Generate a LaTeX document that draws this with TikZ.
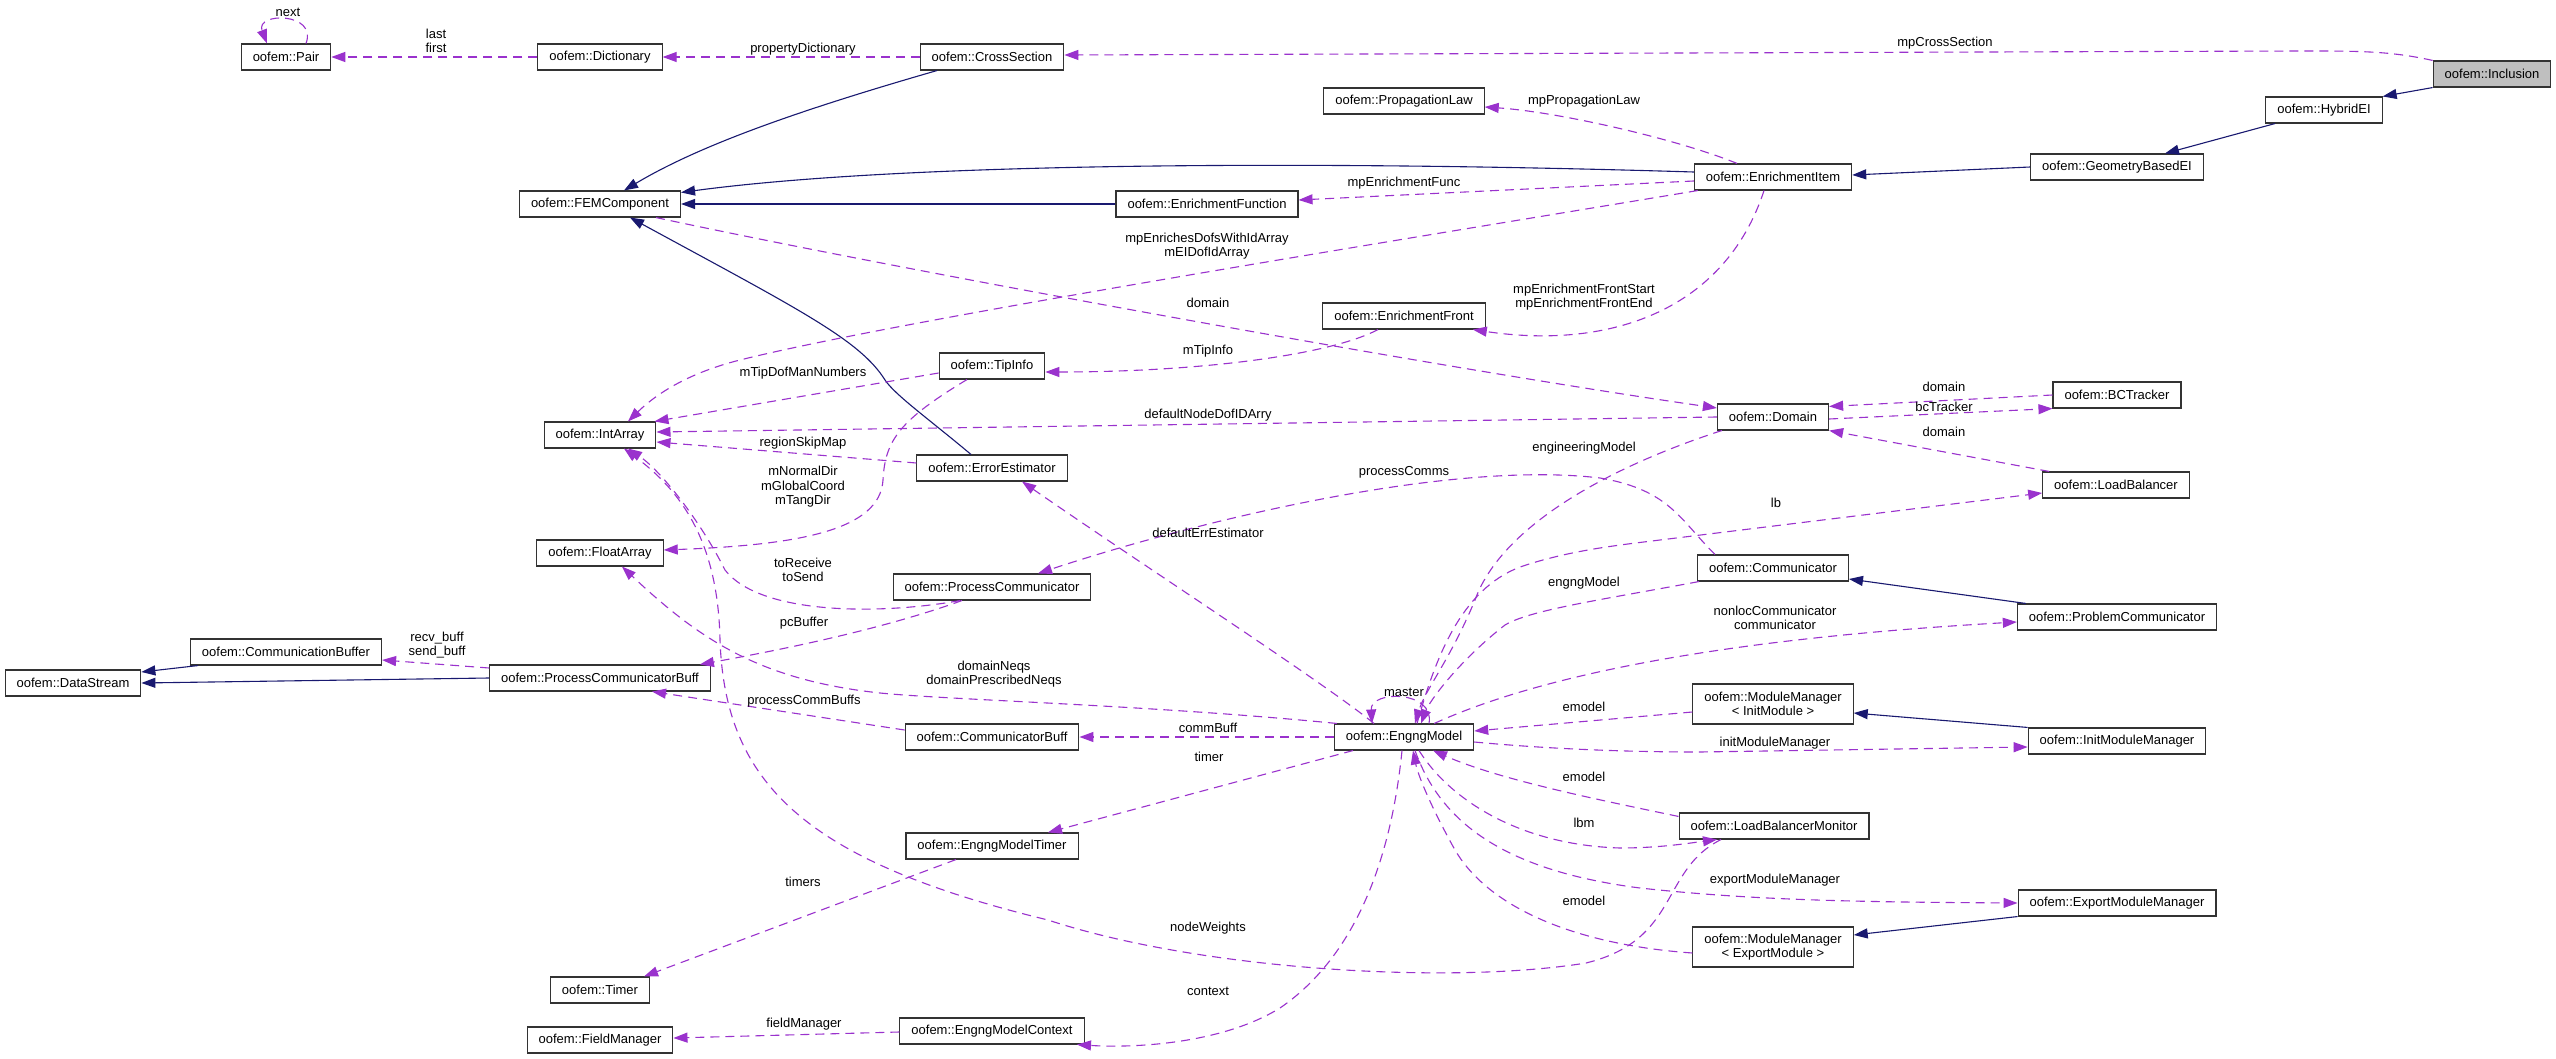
\documentclass[tikz,border=0pt]{standalone}
\usepackage{fontspec}
\setmainfont{Liberation Sans}
\usetikzlibrary{arrows.meta,calc}
\definecolor{purp}{HTML}{9A32CD}
\definecolor{navy}{HTML}{191970}
\definecolor{selgray}{HTML}{BFBFBF}
\newcommand\dgfont{\fontsize{13}{14.5}\selectfont}
\tikzset{
  cls/.style={draw=black!80, line width=1.1pt, fill=white, minimum height=26pt, inner xsep=11.5pt, inner ysep=2pt, font=\dgfont, text=black},
  clstwo/.style={cls, minimum height=40pt, align=center},
  rel/.style={draw=purp, line width=1.1pt, dash pattern=on 9pt off 6pt, -{Triangle[length=14pt,width=10pt]}},
  inh/.style={draw=navy, line width=1.1pt, -{Triangle[length=14pt,width=10pt]}},
  lbl/.style={font=\dgfont, align=center, inner sep=0pt, text=black}
}
\begin{document}
\begin{tikzpicture}[x=1pt,y=-1pt]
\useasboundingbox[fill=white] (0,0) rectangle (2556,1059);
% nodes
\node[cls] (pair) at (286,57) {oofem::Pair};
\node[cls] (dict) at (600,57) {oofem::Dictionary};
\node[cls] (cross) at (992,57) {oofem::CrossSection};
\node[cls,fill=selgray] (incl) at (2492,74) {oofem::Inclusion};
\node[cls] (hybrid) at (2324,110) {oofem::HybridEI};
\node[cls] (geom) at (2117,167) {oofem::GeometryBasedEI};
\node[cls] (prop) at (1404,101) {oofem::PropagationLaw};
\node[cls] (eitem) at (1773,177) {oofem::EnrichmentItem};
\node[cls] (fem) at (600,204) {oofem::FEMComponent};
\node[cls] (efunc) at (1207,204) {oofem::EnrichmentFunction};
\node[cls] (efront) at (1404,316) {oofem::EnrichmentFront};
\node[cls] (tip) at (992,366) {oofem::TipInfo};
\node[cls] (intarr) at (600,435) {oofem::IntArray};
\node[cls] (domain) at (1773,417) {oofem::Domain};
\node[cls] (bct) at (2117,395) {oofem::BCTracker};
\node[cls] (lbal) at (2116,485) {oofem::LoadBalancer};
\node[cls] (errest) at (992,468) {oofem::ErrorEstimator};
\node[cls] (floatarr) at (600,553) {oofem::FloatArray};
\node[cls] (pcomm) at (992,587) {oofem::ProcessCommunicator};
\node[cls] (comm) at (1773,568) {oofem::Communicator};
\node[cls] (probcomm) at (2117,617) {oofem::ProblemCommunicator};
\node[cls] (cbuffer) at (286,652) {oofem::CommunicationBuffer};
\node[cls] (dstream) at (73,683) {oofem::DataStream};
\node[cls] (pcbuff) at (600,678) {oofem::ProcessCommunicatorBuff};
\node[cls] (commbuff) at (992,737) {oofem::CommunicatorBuff};
\node[cls] (engng) at (1404,737) {oofem::EngngModel};
\node[clstwo] (mminit) at (1773,704) {oofem::ModuleManager\\< InitModule >};
\node[cls] (initmm) at (2117,741) {oofem::InitModuleManager};
\node[cls] (emtimer) at (992,846) {oofem::EngngModelTimer};
\node[cls] (lbm) at (1774,826) {oofem::LoadBalancerMonitor};
\node[cls] (expmm) at (2117,903) {oofem::ExportModuleManager};
\node[clstwo] (mmexp) at (1773,947) {oofem::ModuleManager\\< ExportModule >};
\node[cls] (timer) at (600,990) {oofem::Timer};
\node[cls] (fieldm) at (600,1040) {oofem::FieldManager};
\node[cls] (emctx) at (992,1031) {oofem::EngngModelContext};

% inheritance
\draw[inh] (incl.south west) -- (hybrid.north east);
\draw[inh] ([xshift=-49]hybrid.south) -- ([xshift=48]geom.north);
\draw[inh] (geom.west) -- ([yshift=2]eitem.east);
\draw[inh] ([yshift=5]eitem.west) .. controls (1300,160) and (900,163) .. ([yshift=-2]fem.north east);
\draw[inh] (efunc.west) -- (fem.east);
\draw[inh] ([xshift=-55]cross.south) .. controls (800,110) and (700,145) .. ([xshift=24]fem.north);
\draw[inh] ([xshift=-21]errest.north) .. controls (930,420) and (895,395) .. (885,380) .. controls (860,340) and (800,310) .. ([xshift=30]fem.south);
\draw[inh] ([xshift=9]probcomm.north west) -- ([yshift=-11]comm.east);
\draw[inh] ([xshift=-88]cbuffer.south) -- ([yshift=11]dstream.east);
\draw[inh] (pcbuff.west) -- (dstream.east);
\draw[inh] (initmm.north west) -- ([yshift=-9]mminit.east);
\draw[inh] (expmm.south west) -- ([yshift=12]mmexp.east);

% relations
\draw[rel] ([xshift=20]pair.north) .. controls (318,12) and (255,12) .. ([xshift=-19]pair.north);
\draw[rel] (dict.west) -- (pair.east);
\draw[rel] (cross.west) -- (dict.east);
\draw[rel] (incl.north west) .. controls (2390,51) and (2360,51) .. (2300,51) -- ([yshift=2]cross.east);
\draw[rel] ([xshift=-36]eitem.north) .. controls (1680,140) and (1560,112) .. ([yshift=-6]prop.east);
\draw[rel] ([yshift=-4]eitem.west) -- ([yshift=4]efunc.east);
\draw[rel] ([xshift=4]eitem.south west) .. controls (1400,240) and (900,320) .. (740,360) .. controls (680,375) and (650,400) .. ([xshift=28]intarr.north);
\draw[rel] ([xshift=56]fem.south) .. controls (900,270) and (1450,370) .. ([yshift=9]domain.west);
\draw[rel] ([xshift=-9]eitem.south) .. controls (1725,310) and (1610,350) .. ([xshift=-13]efront.south east);
\draw[rel] ([xshift=-26]efront.south) .. controls (1330,355) and (1200,372) .. ([yshift=-6]tip.east);
\draw[rel] ([yshift=-7]tip.west) -- ([xshift=-2]intarr.north east);
\draw[rel] ([xshift=-25]tip.south) .. controls (900,420) and (885,440) .. (883,480) .. controls (880,530) and (800,545) .. ([yshift=3]floatarr.east);
\draw[rel] (domain.west) -- ([yshift=3]intarr.east);
\draw[rel] ([yshift=5]errest.west) -- ([yshift=-7]intarr.east);
\draw[rel] (bct.west) -- ([yshift=-3]domain.north east);
\draw[rel] ([yshift=-2]domain.east) -- (bct.south west);
\draw[rel] ([xshift=7]lbal.north west) -- (domain.south east);
\draw[rel] ([xshift=5]domain.south west) .. controls (1600,470) and (1500,530) .. (1475,600) .. controls (1450,660) and (1425,690) .. ([xshift=11]engng.north);
\draw[rel] ([xshift=13]engng.north) .. controls (1435,660) and (1460,590) .. (1520,567) .. controls (1570,550) and (1620,545) .. (1660,540) -- ([yshift=-8]lbal.west);
\draw[rel] ([xshift=-58]comm.north) .. controls (1680,520) and (1670,490) .. (1600,478) .. controls (1450,460) and (1200,520) .. ([xshift=46]pcomm.north);
\draw[rel] ([xshift=-30]engng.north) .. controls (1320,680) and (1150,570) .. ([xshift=30]errest.south);
\draw[rel] ([xshift=2]comm.south west) .. controls (1600,600) and (1530,610) .. (1505,625) .. controls (1460,660) and (1430,700) .. ([xshift=17]engng.north);
\draw[rel] ([xshift=-40]engng.north east) .. controls (1530,680) and (1700,640) .. ([yshift=-5]probcomm.west);
\draw[rel] ([xshift=-32]pcomm.south) .. controls (880,615) and (760,615) .. (725,570) .. controls (700,520) and (660,470) .. ([xshift=28]intarr.south);
\draw[rel] ([xshift=-30]pcomm.south) .. controls (880,630) and (780,650) .. ([xshift=-11]pcbuff.north east);
\draw[rel] ([yshift=10]pcbuff.west) -- ([yshift=-8]cbuffer.east);
\draw[rel] ([xshift=3]engng.north west) .. controls (1150,705) and (950,700) .. (880,693) .. controls (760,680) and (700,640) .. ([xshift=22]floatarr.south);
\draw[rel] ([xshift=-53]lbm.south) .. controls (1660,870) and (1680,940) .. (1586,963) .. controls (1450,985) and (1200,970) .. (1048,920) .. controls (800,860) and (725,780) .. (720,640) .. controls (718,540) and (680,490) .. ([xshift=24]intarr.south);
\draw[rel] ([yshift=7]commbuff.west) -- ([xshift=52]pcbuff.south);
\draw[rel] (engng.west) -- (commbuff.east);
\draw[rel] ([xshift=-51]engng.south) -- ([xshift=56]emtimer.north);
\draw[rel] ([yshift=-8]mminit.west) -- ([yshift=6]engng.east);
\draw[rel] ([yshift=-5]engng.east) .. controls (1560,750) and (1640,752) .. (1700,752) -- ([yshift=-6]initmm.west);
\draw[rel] ([yshift=-4]lbm.north west) .. controls (1600,800) and (1500,780) .. ([xshift=29]engng.south);
\draw[rel] ([xshift=15]engng.south) .. controls (1450,800) and (1520,845) .. (1620,848) .. controls (1660,848) and (1690,843) .. ([xshift=-57]lbm.south);
\draw[rel] ([xshift=11]engng.south) .. controls (1440,820) and (1500,870) .. (1640,888) .. controls (1750,900) and (1850,902) .. (expmm.west);
\draw[rel] ([yshift=-6]mmexp.west) .. controls (1580,945) and (1490,910) .. (1455,850) .. controls (1430,805) and (1418,775) .. ([xshift=9]engng.south);
\draw[rel] ([xshift=25]engng.north) .. controls (1435,690) and (1370,690) .. ([xshift=-32]engng.north);
\draw[rel] ([xshift=-36]emtimer.south) -- ([xshift=44]timer.north);
\draw[rel] ([xshift=-2]engng.south) .. controls (1390,870) and (1350,960) .. (1280,1008) .. controls (1220,1045) and (1130,1048) .. ([xshift=85]emctx.south);
\draw[rel] ([yshift=-1]emctx.west) -- ([yshift=2]fieldm.east);

% labels
\node[lbl] (lnext) at (288,12) {next};
\node[lbl] (llast) at (436,41) {last\\first};
\node[lbl] (lprop) at (803,49) {propertyDictionary};
\node[lbl] (lmpcs) at (1945,43) {mpCrossSection};
\node[lbl] (lmppl) at (1584,101) {mpPropagationLaw};
\node[lbl] (lmpef) at (1404,183) {mpEnrichmentFunc};
\node[lbl] (lmpen) at (1207,246) {mpEnrichesDofsWithIdArray\\mEIDofIdArray};
\node[lbl] (ldom1) at (1208,303) {domain};
\node[lbl] (lmpfr) at (1584,297) {mpEnrichmentFrontStart\\mpEnrichmentFrontEnd};
\node[lbl] (lmtip) at (1208,351) {mTipInfo};
\node[lbl] (lmtdm) at (803,373) {mTipDofManNumbers};
\node[lbl] (ldndi) at (1208,415) {defaultNodeDofIDArry};
\node[lbl] (lrsm) at (803,443) {regionSkipMap};
\node[lbl] (lmnd) at (803,487) {mNormalDir\\mGlobalCoord\\mTangDir};
\node[lbl] (ldom2) at (1944,387) {domain};
\node[lbl] (lbct) at (1944,407) {bcTracker};
\node[lbl] (ldom3) at (1944,432) {domain};
\node[lbl] (leng) at (1584,448) {engineeringModel};
\node[lbl] (lpc) at (1404,472) {processComms};
\node[lbl] (llb) at (1776,503) {lb};
\node[lbl] (lder) at (1208,533) {defaultErrEstimator};
\node[lbl] (ltor) at (803,570) {toReceive\\toSend};
\node[lbl] (lengm) at (1584,583) {engngModel};
\node[lbl] (lnonloc) at (1775,618) {nonlocCommunicator\\communicator};
\node[lbl] (lpcb) at (804,623) {pcBuffer};
\node[lbl] (lrecv) at (437,645) {recv\_buff\\send\_buff};
\node[lbl] (ldneq) at (994,674) {domainNeqs\\domainPrescribedNeqs};
\node[lbl] (lmaster) at (1404,692) {master};
\node[lbl] (lpcbs) at (804,701) {processCommBuffs};
\node[lbl] (lemod1) at (1584,707) {emodel};
\node[lbl] (lcbuf) at (1208,728) {commBuff};
\node[lbl] (linit) at (1775,743) {initModuleManager};
\node[lbl] (ltimer) at (1209,757) {timer};
\node[lbl] (lemod2) at (1584,777) {emodel};
\node[lbl] (llbm) at (1584,823) {lbm};
\node[lbl] (ltimers) at (803,882) {timers};
\node[lbl] (lexp) at (1775,880) {exportModuleManager};
\node[lbl] (lemod3) at (1584,901) {emodel};
\node[lbl] (lnw) at (1208,928) {nodeWeights};
\node[lbl] (lctx) at (1208,991) {context};
\node[lbl] (lfm) at (804,1024) {fieldManager};
\end{tikzpicture}
\end{document}
